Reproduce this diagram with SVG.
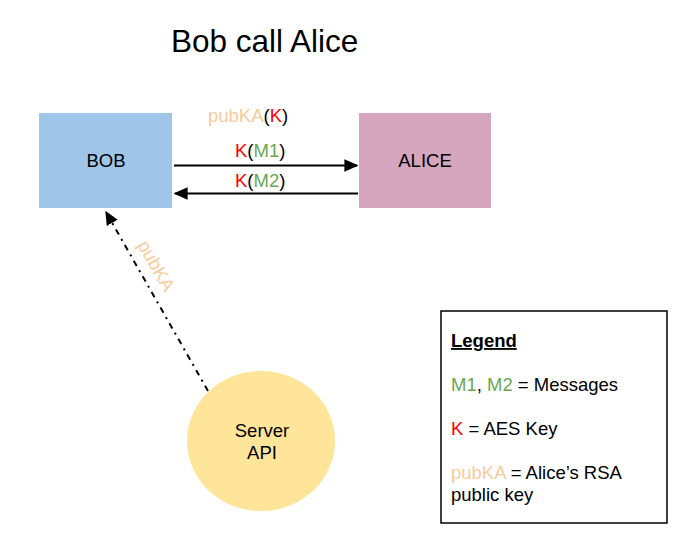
<svg xmlns="http://www.w3.org/2000/svg" width="698" height="553" viewBox="0 0 698 553">
<style>
text { font-family: "Liberation Sans", Arial, sans-serif; fill: #000; }
.lbl { font-size: 18.5px; }
.o { fill: #f9cb9c; }
.r { fill: #ff0000; }
.g { fill: #6aa84f; }
.conn { stroke: #000; stroke-width: 2; fill: none; }
</style>
<defs>
<marker id="ah" viewBox="0 0 10 10" refX="9" refY="5" markerWidth="7" markerHeight="7" markerUnits="strokeWidth" orient="auto">
<path d="M0,0.5 L10,5 L0,9.5 Z" fill="#000"/>
</marker>
</defs>
<rect width="698" height="553" fill="#fff"/>
<text id="title" x="171" y="52" font-size="31.5">Bob call Alice</text>
<g id="bob">
<rect x="39" y="113" width="133" height="95" fill="#9fc5e8"/>
<text class="lbl" x="106" y="167" text-anchor="middle">BOB</text>
</g>
<g id="alice">
<rect x="359" y="113" width="132" height="95" fill="#d5a6bd"/>
<text class="lbl" x="425" y="167" text-anchor="middle">ALICE</text>
</g>
<g id="server">
<ellipse cx="261" cy="441" rx="74" ry="70" fill="#ffe599"/>
<text class="lbl" x="262" y="437" text-anchor="middle">Server</text>
<text class="lbl" x="262" y="459" text-anchor="middle">API</text>
</g>
<g id="connectors">
<line class="conn" x1="174" y1="165.5" x2="357" y2="165.5" marker-end="url(#ah)"/>
<line class="conn" x1="358" y1="193.5" x2="175" y2="193.5" marker-end="url(#ah)"/>
<line class="conn" x1="208" y1="391" x2="106" y2="212" stroke-dasharray="6 5 2 5" marker-end="url(#ah)"/>
<text class="lbl" x="208" y="122"><tspan class="o">pubKA</tspan>(<tspan class="r">K</tspan>)</text>
<text class="lbl" x="235" y="157"><tspan class="r">K</tspan>(<tspan class="g">M1</tspan>)</text>
<text class="lbl" x="235" y="187"><tspan class="r">K</tspan>(<tspan class="g">M2</tspan>)</text>
<text class="lbl o" x="0" y="0" text-anchor="middle" transform="translate(156,266) rotate(60) translate(0,6)">pubKA</text>
</g>
<g id="legend">
<rect x="441" y="311" width="226" height="212" fill="#fff" stroke="#000" stroke-width="1.5"/>
<text class="lbl" x="451" y="347" font-weight="bold" text-decoration="underline">Legend</text>
<text class="lbl" x="451" y="391"><tspan class="g">M1</tspan>, <tspan class="g">M2</tspan> = Messages</text>
<text class="lbl" x="451" y="435"><tspan class="r">K</tspan> = AES Key</text>
<text class="lbl" x="451" y="479"><tspan class="o">pubKA</tspan> = Alice’s RSA</text>
<text class="lbl" x="451" y="501">public key</text>
</g>
</svg>
